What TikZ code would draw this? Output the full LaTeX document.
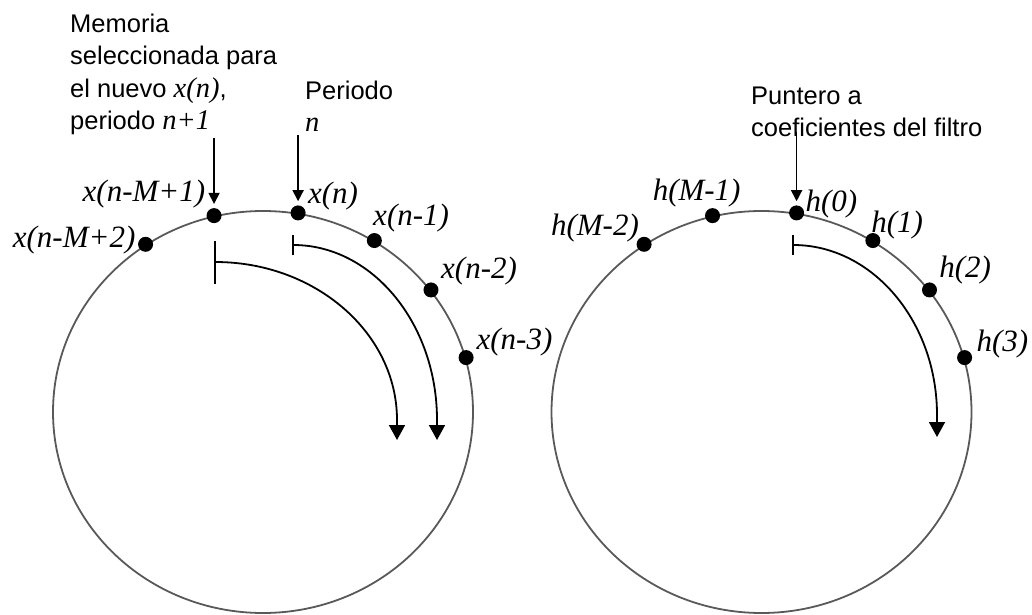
\documentclass[tikz,border=0pt]{standalone}
\usepackage{fontspec}
\setmainfont{Liberation Sans}
\newfontfamily\tmsfont{Liberation Serif}
\usetikzlibrary{arrows.meta, positioning, shapes.geometric}
\newcommand{\vr}[1]{{\tmsfont\itshape\fontsize{28.5}{32.5}\selectfont #1}}

\begin{document}
\begin{tikzpicture}[
  x=1pt, y=1pt,
  font=\fontsize{25.5}{32.5}\selectfont,
  buffer/.style  = {ellipse, draw=black!65, line width=1.8pt, minimum width=420pt,
                    minimum height=402pt, inner sep=0pt},
  dot/.style     = {circle, fill=black, minimum size=15pt, inner sep=0pt},
  lbl/.style     = {font=\tmsfont\itshape\fontsize{31}{36}\selectfont, inner sep=0pt},
  note/.style    = {align=left, inner sep=0pt, anchor=base west},
  pointer/.style = {-{Triangle[length=11pt, width=11pt]}, line width=1.5pt, shorten >=4pt},
  sweep/.style   = {{Bar[width=#1]}-{Triangle[length=15pt, width=16pt]}, line width=1.8pt},
  sweep/.default = 20pt,
]
\useasboundingbox (0,0) rectangle (1032,614);

% ---- the two circular buffers
\node[buffer] (xbuf) at (263,202) {};
\node[buffer] (hbuf) at (761.5,202) {};

% ---- samples x(.)
\node[dot] (xnm1) at (xbuf.104.5) {};
\node[dot] (xnm2) at (xbuf.125) {};
\node[dot] (xn)   at (xbuf.80) {};
\node[dot] (xn1)  at (xbuf.57.5) {};
\node[dot] (xn2)  at (xbuf.36.5) {};
\node[dot] (xn3)  at (xbuf.15.5) {};

\node[lbl, anchor=base east] (lxnm1) at ([shift={(-8.7,13.7)}]xnm1) {x(n-M+1)};
\node[lbl, anchor=base east] (lxnm2) at ([shift={(-10,-3.3)}]xnm2) {x(n-M+2)};
\node[lbl, anchor=base west] (lxn)   at ([shift={(9.7,9.7)}]xn)     {x(n)};
\node[lbl, anchor=base west] (lxn1)  at ([shift={(-1.3,15)}]xn1)    {x(n-1)};
\node[lbl, anchor=base west] (lxn2)  at ([shift={(10,11.3)}]xn2)    {x(n-2)};
\node[lbl, anchor=base west] (lxn3)  at ([shift={(10.3,8)}]xn3)     {x(n-3)};

% ---- coefficients h(.)
\node[dot] (hm1) at (hbuf.104.5) {};
\node[dot] (hm2) at (hbuf.125) {};
\node[dot] (hz)  at (hbuf.80) {};
\node[dot] (h1)  at (hbuf.57.5) {};
\node[dot] (h2)  at (hbuf.36.5) {};
\node[dot] (h3)  at (hbuf.15.5) {};

\node[lbl, anchor=base west] (lhm1) at ([shift={(-60,15)}]hm1)  {h(M-1)};
\node[lbl, anchor=base east] (lhm2) at ([shift={(-5,8.3)}]hm2)  {h(M-2)};
\node[lbl, anchor=base west] (lhz)  at ([shift={(8.7,1.7)}]hz)  {h(0)};
\node[lbl, anchor=base west] (lh1)  at ([shift={(-1.7,8)}]h1)   {h(1)};
\node[lbl, anchor=base west] (lh2)  at ([shift={(9.7,12.7)}]h2) {h(2)};
\node[lbl, anchor=base west] (lh3)  at ([shift={(11.7,6)}]h3)   {h(3)};

% ---- the notes and their pointers (base = last line)
\node[note] (memnote) at (70,484)
     {Memoria\\seleccionada para\\el nuevo \vr{x(n)},\\periodo \vr{n+1}};
\node[note] (pernote) at (305,482) {Periodo\\\vr{n}};
\node[note] (punnote) at (751,477) {Puntero a\\coeficientes del filtro};

\coordinate (newtop)  at ([yshift=70pt]xnm1.north);
\coordinate (pertop)  at ([yshift=70pt]xn.north);
\coordinate (coeftop) at ([yshift=73pt]hz.north);
\draw[pointer] (newtop)  -- (xnm1.north);
\draw[pointer] (pertop)  -- (xn.north);
\draw[pointer] (coeftop) -- (hz.north);

% ---- direction of the scan
\coordinate (oldstart) at (214,352);
\coordinate (curstart) at (292,369);
\coordinate (hstart)   at (792,369);
\draw[sweep=43pt] (oldstart) arc[start angle=90, end angle=0, x radius=183, y radius=158] -- ++(0,-20);
\draw[sweep] (curstart) arc[start angle=90, end angle=0, x radius=145, y radius=175] -- ++(0,-20);
\draw[sweep] (hstart) arc[start angle=90, end angle=0, x radius=145, y radius=170] -- ++(0,-22);

\end{tikzpicture}
\end{document}
